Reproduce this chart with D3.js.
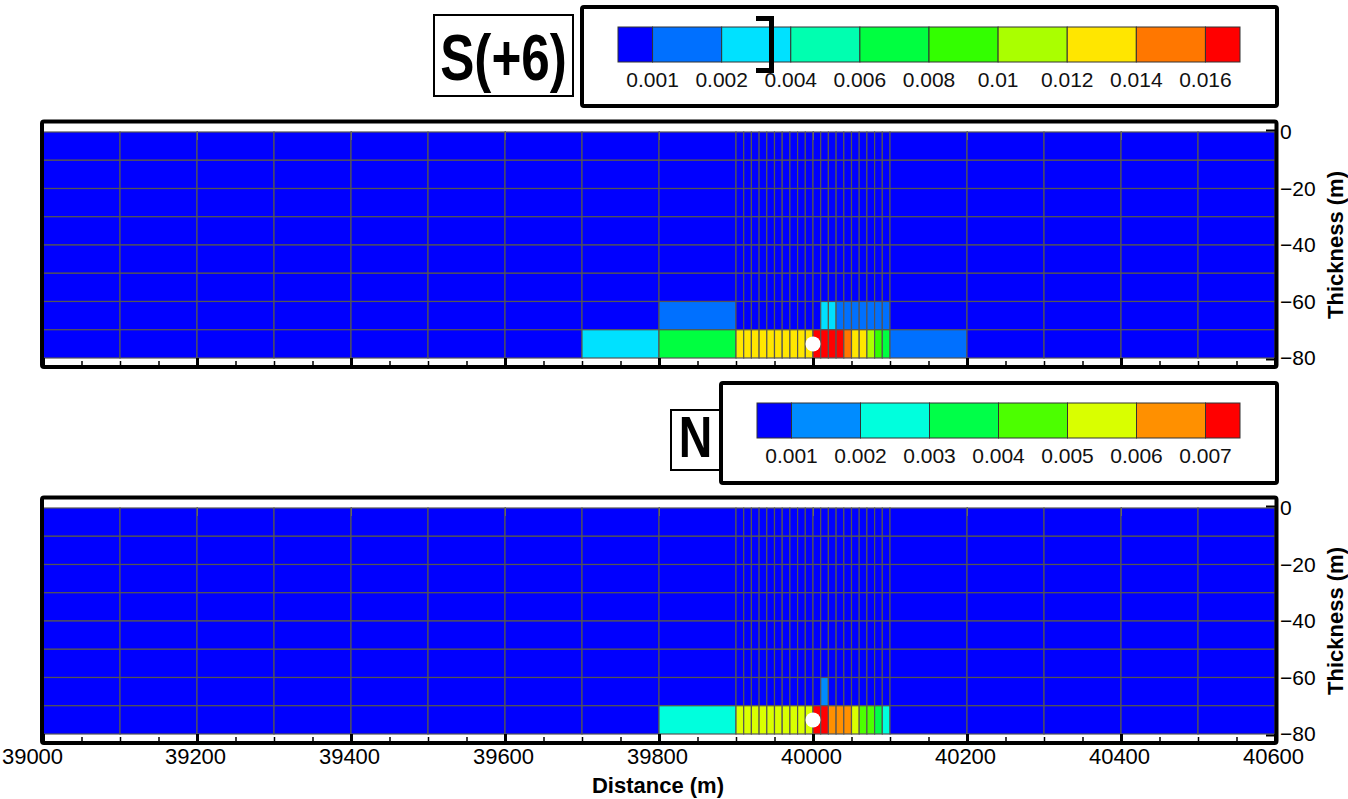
<!doctype html>
<html lang="en">
<head>
<meta charset="utf-8">
<title>S(+6) / N</title>
<script src="https://d3js.org/d3.v7.min.js"></script>
<style>
  body { margin: 0; background: #fff; }
  svg { display: block; font-family: "Liberation Sans", Arial, sans-serif; }
</style>
</head>
<body>
<svg class="mainSVG" width="1348" height="799"></svg>
<script>
// column edges of the model grid (m), coarse outside, 10 m in the middle
var xEdges = [39000, 39100, 39200, 39300, 39400, 39500, 39600, 39700, 39800, 39900,
  39910, 39920, 39930, 39940, 39950, 39960, 39970, 39980, 39990, 40000,
  40010, 40020, 40030, 40040, 40050, 40060, 40070, 40080, 40090, 40100,
  40200, 40300, 40400, 40500, 40600];
var rowEdges = [0, -10, -20, -30, -40, -50, -60, -70, -80];
var xTicks = [39000, 39200, 39400, 39600, 39800, 40000, 40200, 40400, 40600];
var yTicks = [0, -20, -40, -60, -80];

// colour classes
var sBreaks = [0.001, 0.002, 0.004, 0.006, 0.008, 0.01, 0.012, 0.014, 0.016];
var sColors = ["#0000ff", "#0070ff", "#00e1ff", "#00ffb0", "#00ff40", "#33ff00", "#aaff00", "#ffe600", "#ff7700", "#ff0000"];
var nBreaks = [0.001, 0.002, 0.003, 0.004, 0.005, 0.006, 0.007];
var nColors = ["#0000ff", "#008cff", "#00ffdd", "#00ff48", "#4cff00", "#d9ff00", "#ff9000", "#ff0000"];

// values per column in the two lowest layers (other layers are 0)
var sLayer60 = [0, 0, 0, 0, 0, 0, 0, 0, 0.0015,
  0, 0, 0, 0, 0, 0, 0, 0, 0, 0, 0, 0.003, 0.003, 0.0015, 0.0015, 0.0015, 0.0015, 0.0015, 0.0015, 0.0015,
  0, 0, 0, 0, 0];
var sLayer70 = [0, 0, 0, 0, 0, 0, 0, 0.003, 0.007,
  0.013, 0.013, 0.013, 0.013, 0.013, 0.013, 0.013, 0.013, 0.013, 0.013, 0.017, 0.017, 0.017, 0.017, 0.015, 0.013, 0.013, 0.011, 0.009, 0.007,
  0.0015, 0, 0, 0, 0];
var nLayer60 = [0, 0, 0, 0, 0, 0, 0, 0, 0,
  0, 0, 0, 0, 0, 0, 0, 0, 0, 0, 0, 0.0015, 0, 0, 0, 0, 0, 0, 0, 0,
  0, 0, 0, 0, 0];
var nLayer70 = [0, 0, 0, 0, 0, 0, 0, 0, 0.0025,
  0.0055, 0.0055, 0.0055, 0.0055, 0.0055, 0.0055, 0.0055, 0.0055, 0.0055, 0.0055, 0.0075, 0.0075, 0.0065, 0.0065, 0.0065, 0.0055, 0.0045, 0.0045, 0.0035, 0.0025,
  0, 0, 0, 0, 0];
var source = {x: 40000, y: -75};

var svg = d3.select(".mainSVG");
var xScale = d3.scaleLinear().domain([39000, 40600]).range([43, 1275]);

function drawPanel(top, layer60, layer70, breaks, colors, showX) {
  var yScale = d3.scaleLinear().domain([0, -80]).range([top, top + 226]);
  var color = d3.scaleThreshold().domain(breaks).range(colors);
  var g = svg.append("g");
  g.append("rect").attr("x", 42).attr("y", top - 10).attr("width", 1234).attr("height", 246).attr("fill", "#fff");

  var cells = [];
  for (var r = 0; r < rowEdges.length - 1; r++) {
    for (var c = 0; c < xEdges.length - 1; c++) {
      var v = r == 6 ? layer60[c] : (r == 7 ? layer70[c] : 0);
      cells.push({x0: xEdges[c], x1: xEdges[c + 1], y0: rowEdges[r], y1: rowEdges[r + 1], v: v});
    }
  }
  g.append("g").selectAll("rect").data(cells).enter().append("rect")
    .attr("x", function(d) { return xScale(d.x0); })
    .attr("y", function(d) { return yScale(d.y0); })
    .attr("width", function(d) { return xScale(d.x1) - xScale(d.x0); })
    .attr("height", function(d) { return yScale(d.y1) - yScale(d.y0); })
    .attr("fill", function(d) { return color(d.v); })
    .attr("stroke", "#555").attr("stroke-width", 1.2);

  g.append("circle").attr("cx", xScale(source.x)).attr("cy", yScale(source.y)).attr("r", 7.5).attr("fill", "#fff");

  // ticks in the white strips
  var topAx = g.append("g").attr("transform", "translate(0," + (top - 1) + ")")
    .call(d3.axisBottom(xScale).tickValues(xTicks).tickSize(9).tickFormat(""));
  topAx.select(".domain").remove();
  topAx.selectAll("line").attr("stroke", "#666");
  var minor = g.append("g").attr("transform", "translate(0," + (top + 233) + ")")
    .call(d3.axisTop(xScale).ticks(32).tickSize(4).tickFormat(""));
  minor.select(".domain").remove();
  minor.selectAll("line").attr("stroke-width", 1.5);
  var major = g.append("g").attr("transform", "translate(0," + (top + 234) + ")")
    .call(d3.axisTop(xScale).tickValues(xTicks).tickSize(8).tickFormat(""));
  major.select(".domain").remove();
  major.selectAll("line").attr("stroke-width", 3);

  g.append("rect").attr("x", 42).attr("y", top - 10.5).attr("width", 1234.5).attr("height", 245.5)
    .attr("fill", "none").attr("stroke", "#000").attr("stroke-width", 4).attr("rx", 2);
  g.append("line").attr("x1", 1266).attr("x2", 1276).attr("y1", top - 1.5).attr("y2", top - 1.5).attr("stroke", "#000").attr("stroke-width", 2);
  g.append("line").attr("x1", 1266).attr("x2", 1276).attr("y1", top + 227.5).attr("y2", top + 227.5).attr("stroke", "#000").attr("stroke-width", 2);

  var yAx = g.append("g").attr("transform", "translate(1278,0)")
    .call(d3.axisRight(yScale).tickValues(yTicks).tickSize(0).tickPadding(2));
  yAx.select(".domain").remove();
  yAx.selectAll("text").attr("font-size", 21).attr("font-family", "Liberation Sans, Arial, sans-serif").attr("fill", "#000");
  g.append("text").attr("transform", "translate(1343," + (top + 113) + ") rotate(-90)")
    .attr("text-anchor", "middle").attr("font-size", 22).attr("font-weight", "bold").text("Thickness (m)");

  if (showX) {
    var xAx = g.append("g").attr("transform", "translate(0," + (top + 236) + ")")
      .call(d3.axisBottom(xScale).tickValues(xTicks).tickSize(0).tickPadding(4).tickFormat(d3.format("d")));
    xAx.select(".domain").remove();
    xAx.selectAll("text").attr("font-size", 22).attr("font-family", "Liberation Sans, Arial, sans-serif").attr("fill", "#000")
      .attr("dx", function(d) { return d == 39000 ? -11 : -2; });
    g.append("text").attr("x", 658).attr("y", 793).attr("text-anchor", "middle")
      .attr("font-size", 22).attr("font-weight", "bold").text("Distance (m)");
  }
}

function drawLegend(boxX, boxY, boxW, boxH, barX0, barX1, barY, breaks, colors, fmt) {
  svg.append("rect").attr("x", boxX).attr("y", boxY).attr("width", boxW).attr("height", boxH)
    .attr("fill", "#fff").attr("stroke", "#000").attr("stroke-width", 4).attr("rx", 2);
  var lx = d3.scalePoint().domain(breaks).range([barX0, barX1]).padding(0.5);
  var g = svg.append("g");
  g.selectAll("rect").data(colors).enter().append("rect")
    .attr("x", function(d, i) { return i == 0 ? barX0 : lx(breaks[i - 1]); })
    .attr("y", barY)
    .attr("width", function(d, i) {
      var a = i == 0 ? barX0 : lx(breaks[i - 1]);
      var b = i == colors.length - 1 ? barX1 : lx(breaks[i]);
      return b - a;
    })
    .attr("height", 35)
    .attr("fill", function(d) { return d; })
    .attr("stroke", "#333").attr("stroke-width", 1);
  g.selectAll("text").data(breaks).enter().append("text")
    .attr("x", function(d) { return lx(d); })
    .attr("y", barY + 60)
    .attr("text-anchor", "middle").attr("font-size", 21).attr("fill", "#111")
    .text(fmt);
}

function drawTag(x, y, w, h, label, size, base) {
  svg.append("rect").attr("x", x).attr("y", y).attr("width", w).attr("height", h)
    .attr("fill", "#fff").attr("stroke", "#000").attr("stroke-width", 2);
  svg.append("text").attr("transform", "translate(" + (x + w / 2) + "," + base + ") scale(0.8,1)")
    .attr("text-anchor", "middle").attr("font-size", size).attr("font-weight", "bold").text(label);
}

drawPanel(132, sLayer60, sLayer70, sBreaks, sColors, false);
drawPanel(508, nLayer60, nLayer70, nBreaks, nColors, true);

drawLegend(582, 7, 695, 99, 618, 1240, 27, sBreaks, sColors, function(d) { return String(d); });
drawTag(434, 15, 139, 81, "S(+6)", 64, 80);
// bracket drawn over the S(+6) colour bar
svg.append("path").attr("d", "M756,18.5 H771.5 V70.5 H756").attr("fill", "none")
  .attr("stroke", "#000").attr("stroke-width", 5);

drawLegend(721, 383, 556, 100, 757, 1240, 403, nBreaks, nColors, function(d) { return String(d); });
drawTag(671, 410, 49, 60, "N", 58, 457);
</script>
</body>
</html>
